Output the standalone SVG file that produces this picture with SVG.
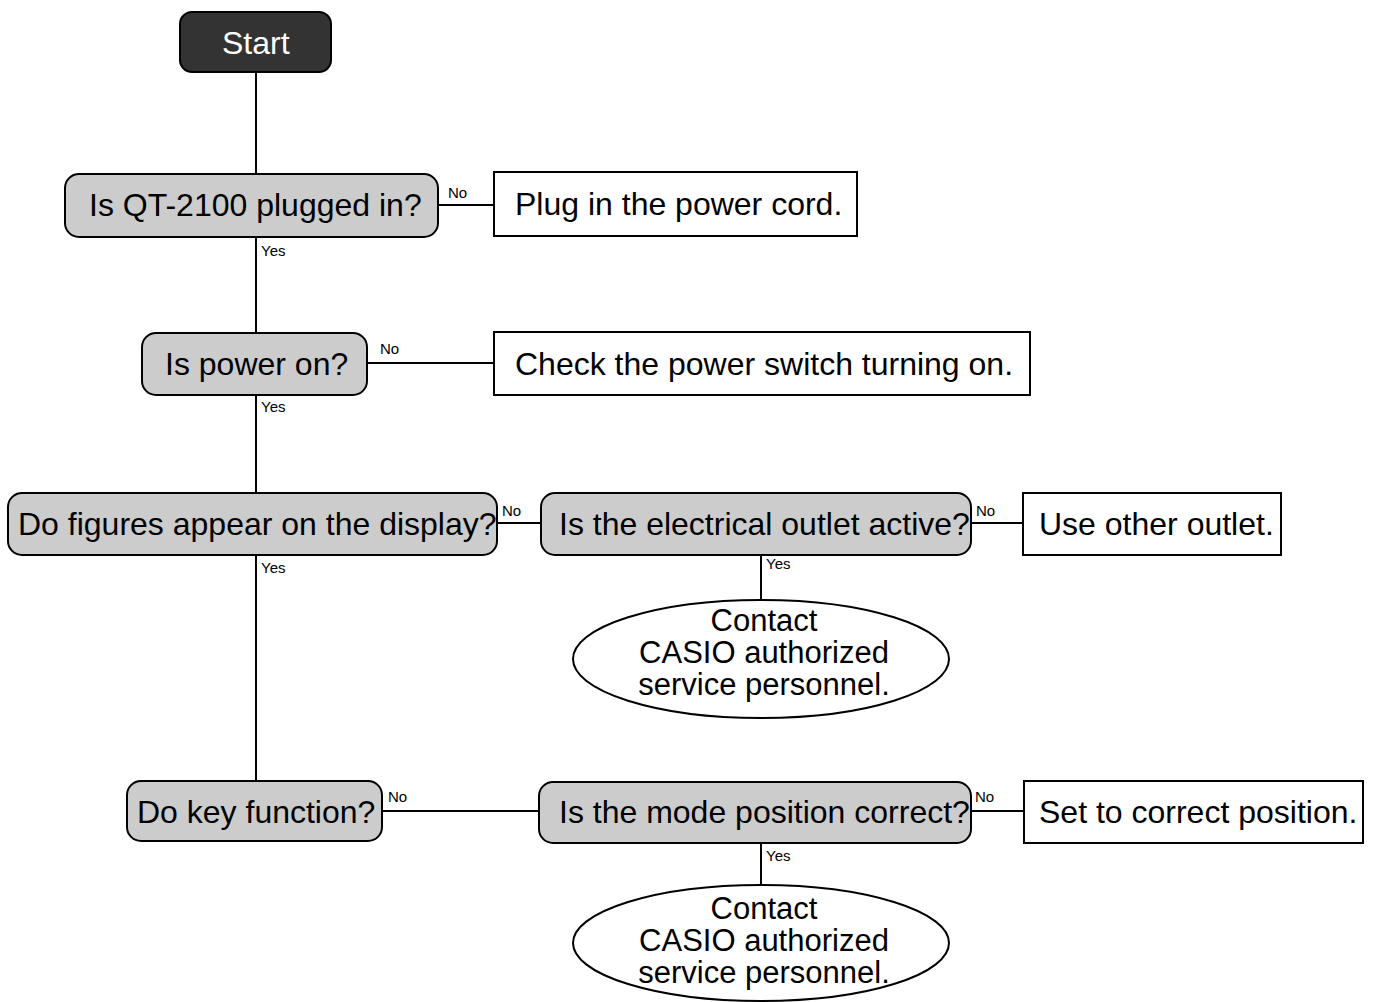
<svg xmlns="http://www.w3.org/2000/svg" width="1373" height="1002" viewBox="0 0 1373 1002">
<style>
.t{font-family:"Liberation Sans",Arial,sans-serif;font-size:32px;fill:#000}
.e{font-family:"Liberation Sans",Arial,sans-serif;font-size:31px;fill:#000}
.s{font-family:"Liberation Sans",Arial,sans-serif;font-size:15px;fill:#000}
.d{fill:#cccccc;stroke:#000;stroke-width:2}
.b{fill:#fff;stroke:#000;stroke-width:2}
.c line{stroke:#000;stroke-width:2}
</style>
<rect width="1373" height="1002" fill="#fff"/>
<g class="c" id="connectors">
<line x1="256" y1="72" x2="256" y2="174"/>
<line x1="438" y1="205" x2="494" y2="205"/>
<line x1="256" y1="237" x2="256" y2="333"/>
<line x1="367" y1="363" x2="494" y2="363"/>
<line x1="256" y1="395" x2="256" y2="493"/>
<line x1="497" y1="523" x2="541" y2="523"/>
<line x1="971" y1="523" x2="1023" y2="523"/>
<line x1="761" y1="555" x2="761" y2="600"/>
<line x1="256" y1="555" x2="256" y2="781"/>
<line x1="382" y1="811" x2="539" y2="811"/>
<line x1="971" y1="811" x2="1024" y2="811"/>
<line x1="761" y1="843" x2="761" y2="885"/>
<text class="s" x="448" y="198">No</text>
<text class="s" x="261" y="256">Yes</text>
<text class="s" x="380" y="354">No</text>
<text class="s" x="261" y="412">Yes</text>
<text class="s" x="502" y="516">No</text>
<text class="s" x="976" y="516">No</text>
<text class="s" x="766" y="569">Yes</text>
<text class="s" x="261" y="573">Yes</text>
<text class="s" x="388" y="802">No</text>
<text class="s" x="975" y="802">No</text>
<text class="s" x="766" y="861">Yes</text>
</g>
<g id="start"><rect x="180" y="12" width="151" height="60" rx="12" fill="#333" stroke="#000" stroke-width="2"/><text class="t" x="222" y="54" style="fill:#fff">Start</text></g>
<g id="q1"><rect class="d" x="65" y="174" width="373" height="63" rx="14"/><text class="t" x="89" y="216">Is QT-2100 plugged in?</text></g>
<g id="a1"><rect class="b" x="494" y="172" width="363" height="64"/><text class="t" x="515" y="215">Plug in the power cord.</text></g>
<g id="q2"><rect class="d" x="142" y="333" width="225" height="62" rx="14"/><text class="t" x="165" y="375">Is power on?</text></g>
<g id="a2"><rect class="b" x="494" y="332" width="536" height="63"/><text class="t" x="515" y="375">Check the power switch turning on.</text></g>
<g id="q3"><rect class="d" x="8" y="493" width="489" height="62" rx="14"/><text class="t" x="18" y="535">Do figures appear on the display?</text></g>
<g id="q4"><rect class="d" x="541" y="493" width="430" height="62" rx="14"/><text class="t" x="559" y="535">Is the electrical outlet active?</text></g>
<g id="a4"><rect class="b" x="1023" y="493" width="258" height="62"/><text class="t" x="1039" y="535">Use other outlet.</text></g>
<g id="e1"><ellipse cx="761" cy="659" rx="188" ry="59" class="b"/><text class="e" text-anchor="middle" x="764" y="631">Contact</text><text class="e" text-anchor="middle" x="764" y="663">CASIO authorized</text><text class="e" text-anchor="middle" x="764" y="695">service personnel.</text></g>
<g id="q5"><rect class="d" x="127" y="781" width="255" height="60" rx="14"/><text class="t" x="137" y="823">Do key function?</text></g>
<g id="q6"><rect class="d" x="539" y="782" width="432" height="61" rx="14"/><text class="t" x="559" y="823">Is the mode position correct?</text></g>
<g id="a6"><rect class="b" x="1024" y="781" width="339" height="62"/><text class="t" x="1039" y="823">Set to correct position.</text></g>
<g id="e2"><ellipse cx="761" cy="943" rx="188" ry="58" class="b"/><text class="e" text-anchor="middle" x="764" y="919">Contact</text><text class="e" text-anchor="middle" x="764" y="951">CASIO authorized</text><text class="e" text-anchor="middle" x="764" y="983">service personnel.</text></g>
</svg>
